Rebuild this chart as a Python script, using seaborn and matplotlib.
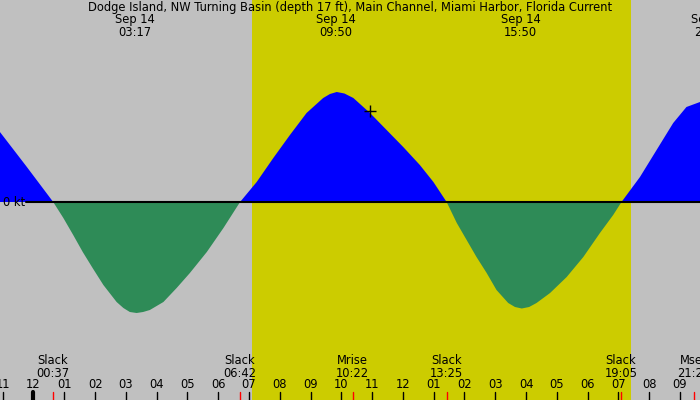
import numpy as np
import pandas as pd
import seaborn as sns
import matplotlib
matplotlib.use("Agg")
import matplotlib.pyplot as plt

# current speed (hours after midnight Sep 14, knots; + flood, - ebb)
hours = [-1.09, -0.24, 0.64, 0.97, 1.29, 1.60, 1.92, 2.27, 2.70, 2.92, 3.13, 3.35, 3.56,
         3.78, 4.22, 4.65, 5.08, 5.63, 6.17, 6.71, 7.25, 7.79, 8.33, 8.87, 9.41, 9.63,
         9.85, 10.10, 10.39, 10.93, 11.47, 12.01, 12.55, 12.99, 13.42, 13.75, 14.07,
         14.39, 14.72, 15.04, 15.42, 15.64, 15.86, 16.10, 16.34, 16.78, 17.32, 17.86,
         18.40, 18.83, 19.10, 19.70, 20.24, 20.78, 21.21, 21.65]
speed = [0.70, 0.36, 0.00, -0.16, -0.33, -0.50, -0.66, -0.83, -1.00, -1.06, -1.10, -1.11, -1.10,
         -1.08, -1.00, -0.86, -0.71, -0.50, -0.26, 0.00, 0.20, 0.44, 0.67, 0.89, 1.04, 1.08,
         1.10, 1.085, 1.04, 0.89, 0.72, 0.55, 0.37, 0.20, 0.00, -0.21, -0.38,
         -0.55, -0.71, -0.88, -1.01, -1.05, -1.065, -1.05, -1.01, -0.91, -0.75, -0.55,
         -0.31, -0.13, 0.00, 0.25, 0.52, 0.79, 0.95, 1.00]

title = "Dodge Island, NW Turning Basin (depth 17 ft), Main Channel, Miami Harbor, Florida Current"

# max current times shown along the top
peak_hours = [3.28, 9.83, 15.83, 22.0]
peak_labels = ["Sep 14\n03:17", "Sep 14\n09:50", "Sep 14\n15:50", "Sep 14\n21:59"]

# events along the bottom
event_hours = [0.62, 6.70, 10.37, 13.42, 19.08, 21.45]
event_labels = ["Slack\n00:37", "Slack\n06:42", "Mrise\n10:22", "Slack\n13:25", "Slack\n19:05", "Mset\n21:27"]

sunrise, sunset = 7.10, 19.40
now_hour, now_speed = 10.93, 0.91

hour_ticks = list(range(-1, 22))
hour_labels = ["11", "12"] + ["%02d" % h for h in range(1, 13)] + ["%02d" % h for h in range(1, 10)]

df = pd.DataFrame({"hour": hours, "speed": speed})

sns.set_theme(style="white")
plt.rcParams["font.family"] = ["DejaVu Sans"]
plt.rcParams["text.color"] = "black"

fig = plt.figure(figsize=(7, 4), dpi=100)
ax = fig.add_axes([0, 0, 1, 1])
ax.set_facecolor("#c0c0c0")
for s in ax.spines.values():
    s.set_visible(False)

ax.set_xlim(-1.088, 21.65)
ax.set_ylim(-1.98, 2.02)

ax.axvspan(sunrise, sunset, color="#cccc00", lw=0)

ax.fill_between(df["hour"], df["speed"], 0, where=df["speed"] >= 0, color="#0000ff",
                lw=0, interpolate=True)
ax.fill_between(df["hour"], df["speed"], 0, where=df["speed"] <= 0, color="#2e8b57",
                lw=0, interpolate=True)
sns.lineplot(data=df, x="hour", y="speed", ax=ax, lw=0, legend=False)

ax.axhline(0, xmin=26 / 700, color="black", lw=1.5)
ax.text(3 / 700, 0.0, "0 kt", transform=ax.get_yaxis_transform(), ha="left", va="center",
        fontsize=8.3, color="black")

ax.plot([now_hour], [now_speed], marker="+", color="black", ms=8, mew=1)

ax.set_xticks([])
ax.set_yticks([])
ax.set_xlabel("")
ax.set_ylabel("")

trans = ax.get_xaxis_transform()
fs = 8.3
ax.text(0.5, 1 - 7.5 / 400, title, transform=ax.transAxes, ha="center", va="center",
        fontsize=fs, color="black")
for h, lab in zip(peak_hours, peak_labels):
    ax.text(h, 1 - 26 / 400, lab, transform=trans, ha="center", va="center", fontsize=fs,
            linespacing=1.0, color="black", clip_on=False)

for h, lab in zip(hour_ticks, hour_labels):
    ax.text(h, 15 / 400, lab, transform=trans, ha="center", va="center", fontsize=fs,
            color="black")
    lw = 3 if h == 0 else 1
    ax.plot([h, h], [0, 8 / 400], transform=trans, color="black", lw=lw, clip_on=False)

for h, lab in zip(event_hours, event_labels):
    ax.text(h, 33 / 400, lab, transform=trans, ha="center", va="center", fontsize=fs,
            linespacing=1.0, color="black")
    ax.plot([h, h], [0, 8 / 400], transform=trans, color="red", lw=1)

fig.savefig("out.png", dpi=100)
